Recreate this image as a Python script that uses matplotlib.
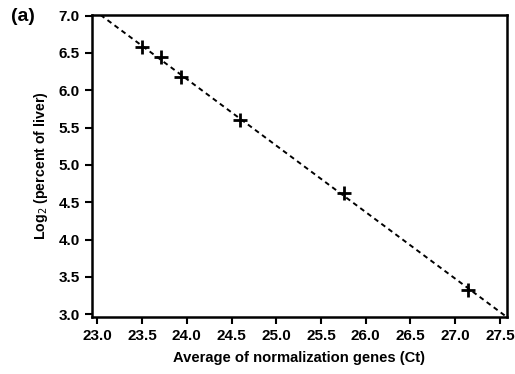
import numpy as np
import matplotlib
matplotlib.use("Agg")
import matplotlib.pyplot as plt

plt.rcParams['font.family'] = ['Liberation Sans', 'DejaVu Sans']

ct_avg = [23.50, 23.71, 23.94, 24.60, 25.76, 27.145]
log2_pct = [6.58, 6.44, 6.18, 5.60, 4.62, 3.33]
xticks = [23.0, 23.5, 24.0, 24.5, 25.0, 25.5, 26.0, 26.5, 27.0, 27.5]
yticks = [3.0, 3.5, 4.0, 4.5, 5.0, 5.5, 6.0, 6.5, 7.0]

fig = plt.figure(figsize=(5.15, 3.74), dpi=100)
ax = fig.add_axes([0.178, 0.1524, 0.8058, 0.8075])

slope, intercept = np.polyfit(ct_avg, log2_pct, 1)
xl = np.array([22.8, 27.7])
ax.plot(xl, slope * xl + intercept, linestyle=(0, (2.5, 2)), color='black', lw=1.4)
ax.plot(ct_avg, log2_pct, linestyle='none', marker='+', markersize=9.5,
        markeredgewidth=2.0, color='black')

ax.set_xlim(22.937, 27.575)
ax.set_ylim(2.964, 7.007)
ax.set_xticks(xticks)
ax.set_yticks(yticks)
ax.set_xticklabels([f"{v:.1f}" for v in xticks])
ax.set_yticklabels([f"{v:.1f}" for v in yticks])
for s in ax.spines.values():
    s.set_linewidth(1.8)
ax.tick_params(direction='out', length=5, width=1.5, labelsize=11, pad=3.5)
for lbl in ax.get_xticklabels() + ax.get_yticklabels():
    lbl.set_fontweight('bold')
ax.set_xlabel("Average of normalization genes (Ct)", fontsize=10.6, labelpad=6,
              fontweight='bold')
ax.set_ylabel("Log$_2$ (percent of liver)", fontsize=10.2, labelpad=6,
              fontweight='bold')
fig.text(0.022, 0.955, "(a)", fontsize=14, fontweight='bold', ha='left', va='center')

fig.savefig("out.png", dpi=100)
